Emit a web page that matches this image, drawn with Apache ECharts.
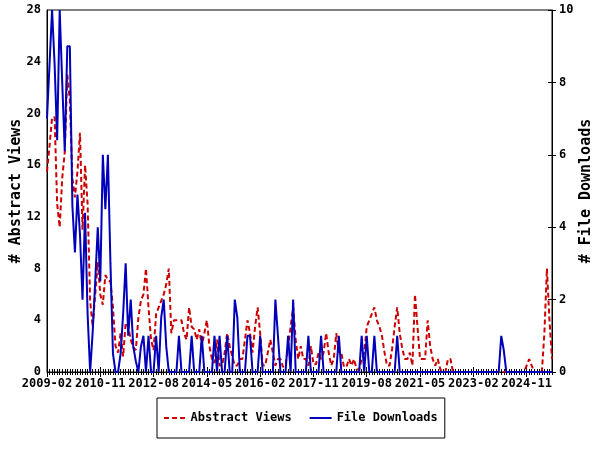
<!DOCTYPE html>
<html><head><meta charset="utf-8">
<script src="https://cdn.jsdelivr.net/npm/echarts@6/dist/echarts.min.js"></script>
<style>html,body{margin:0;padding:0;background:#fff}#c{width:600px;height:450px}</style>
</head><body><div id="c"></div>
<script>
// Monthly categories 2009-02 .. 2025-09
const startYear = 2009, startMonth = 2, monthCount = 200;
const months = [];
for (let k = 0; k < monthCount; k++) {
  const m = startMonth - 1 + k;
  months.push((startYear + Math.floor(m / 12)) + '-' + String(m % 12 + 1).padStart(2, '0'));
}

const abstractViews = [
  15.5, 17.5, 19.7, 19.7, 13, 11.2, 15, 17, 23, 21,
  15, 13.5, 15.5, 18.5, 11, 16, 13, 5.5, 3.5, 6,
  8.5, 6, 5.2, 7.5, 7.1, 7, 5, 2, 1.5, 3,
  1.2, 3.8, 3.5, 2.5, 1.9, 1.7, 4.2, 5.5, 6, 8,
  5, 2.5, 1.7, 4.5, 5, 5.5, 6, 6.8, 8, 3,
  4, 4, 4, 4, 3, 2.5, 5, 3.5, 3.3, 2.5,
  3.3, 2, 3, 4, 2, 1, 0.7, 2.5, 0.5, 0.5,
  1.5, 3, 2, 1.2, 0.5, 0.5, 1, 1, 2.5, 4,
  3, 1.5, 3.5, 5, 3, 0.5, 0.5, 1.5, 2.5, 1.5,
  0.5, 1, 1, 0.4, 0.5, 2, 3.5, 5, 2.5, 1,
  2, 1, 1, 0.5, 2, 0.6, 0.6, 1.5, 1, 1.5,
  3, 1.5, 0.5, 1, 3, 1.5, 1.5, 0.4, 0.4, 1,
  0.5, 1, 0.2, 0.2, 1, 1.5, 3.5, 4, 4.5, 5,
  4, 3.5, 2.8, 1.5, 0.5, 0.5, 1.8, 3.5, 5, 3,
  1.8, 1, 1, 1.5, 0.5, 6, 3.5, 1, 1, 1,
  4, 2, 1, 0.5, 1, 0.2, 0, 0, 1, 1,
  0, 0, 0, 0, 0, 0, 0, 0, 0, 0,
  0, 0, 0, 0, 0, 0, 0, 0, 0, 0,
  0, 0, 0, 0, 0, 0, 0, 0, 0, 0.5,
  1, 0.5, 0, 0, 0, 0, 3, 8, 4, 1
];

const fileDownloads = [
  7, 8.5, 10, 8.5, 6.4, 10, 8, 6.1, 9, 9,
  4.6, 3.3, 4.9, 3.8, 2, 4.4, 1.6, 0, 1.1, 2.5,
  4, 2.5, 6, 4.5, 6, 3, 0.5, 0, 0, 0.5,
  1.6, 3, 1, 2, 0.7, 0.3, 0, 0.7, 1, 0,
  1, 0, 0, 1, 0, 1.5, 2, 0.7, 0, 0,
  0, 0, 1, 0, 0, 0, 0, 1, 0, 0,
  0, 1, 0, 0, 0, 0, 1, 0, 1, 0,
  0, 1, 0, 0, 2, 1.5, 0, 0, 0, 1,
  1, 0, 0, 0, 1, 0, 0, 0, 0, 0,
  2, 1, 0, 0, 0, 1, 0, 2, 0, 0,
  0, 0, 0, 1, 0, 0, 0, 0, 1, 0,
  0, 0, 0, 0, 0, 1, 0, 0, 0, 0,
  0, 0, 0, 0, 1, 0, 1, 0, 0, 1,
  0, 0, 0, 0, 0, 0, 0, 0, 1, 0,
  0, 0, 0, 0, 0, 0, 0, 0, 0, 0,
  0, 0, 0, 0, 0, 0, 0, 0, 0, 0,
  0, 0, 0, 0, 0, 0, 0, 0, 0, 0,
  0, 0, 0, 0, 0, 0, 0, 0, 0, 1,
  0.6, 0, 0, 0, 0, 0, 0, 0, 0, 0,
  0, 0, 0, 0, 0, 0, 0, 0, 0, 0
];

const leftTicks = { min: 0, max: 28, interval: 4 };
const rightTicks = { min: 0, max: 10, interval: 2 };
const labelStep = 21;

const FONT = 'DejaVu Sans Mono';
const txt = { color: '#000', fontFamily: FONT, fontWeight: 'bold', fontSize: 12 };
const RED = '#cc0000', BLUE = '#0000bb';

function tickAxis(interval, len, inside) {
  return {
    type: 'category', data: months, boundaryGap: false, position: 'bottom',
    axisLine: { show: false }, axisLabel: { show: false }, splitLine: { show: false },
    axisTick: { show: true, interval: interval, length: len, inside: inside, lineStyle: { color: '#000', width: 1 } }
  };
}

const chart = echarts.init(document.getElementById('c'), null, { renderer: 'canvas' });
chart.setOption({
  animation: false,
  backgroundColor: '#fff',
  grid: { left: 47, right: 48, top: 10, bottom: 78, show: true, borderColor: '#000', borderWidth: 1,
          containLabel: false, outerBoundsMode: 'none' },
  legend: {
    data: [
      { name: 'Abstract Views', icon: 'path://M0 0H5V2H0Z M8 0H13V2H8Z M16 0H21V2H16Z' },
      { name: 'File Downloads', icon: 'rect' }
    ],
    left: 157, top: 398, orient: 'horizontal',
    borderColor: '#000', borderWidth: 1, padding: [13, 7],
    itemGap: 18, itemWidth: 22, itemHeight: 2,
    textStyle: Object.assign({ lineHeight: 14 }, txt)
  },
  xAxis: [
    {
      type: 'category', data: months, boundaryGap: false, position: 'bottom',
      axisLine: { show: true, lineStyle: { color: '#000', width: 1 } },
      axisTick: { show: true, interval: labelStep - 1, length: 5, lineStyle: { color: '#000' } },
      axisLabel: Object.assign({ interval: labelStep - 1, margin: 6, hideOverlap: false }, txt),
      splitLine: { show: false }
    },
    tickAxis(labelStep - 1, 5, true),
    tickAxis(0, 3, true),
    tickAxis(0, 3, false)
  ],
  yAxis: [
    {
      type: 'value', position: 'left', min: leftTicks.min, max: leftTicks.max, interval: leftTicks.interval,
      name: '# Abstract Views', nameLocation: 'middle', nameGap: 23, nameRotate: 90, nameMoveOverlap: false,
      nameTextStyle: { color: '#000', fontFamily: FONT, fontWeight: 'bold', fontSize: 15 },
      axisLine: { show: true, lineStyle: { color: '#000' } },
      axisTick: { show: false },
      axisLabel: Object.assign({ margin: 6 }, txt),
      splitLine: { show: false }
    },
    {
      type: 'value', position: 'right', min: rightTicks.min, max: rightTicks.max, interval: rightTicks.interval,
      name: '# File Downloads', nameLocation: 'middle', nameGap: 27, nameRotate: 90, nameMoveOverlap: false,
      nameTextStyle: { color: '#000', fontFamily: FONT, fontWeight: 'bold', fontSize: 15 },
      axisLine: { show: true, lineStyle: { color: '#000' } },
      axisTick: { show: true, inside: true, length: 4, lineStyle: { color: '#000' } },
      axisLabel: Object.assign({ margin: 7 }, txt),
      splitLine: { show: false }
    },
    {
      type: 'value', position: 'right', min: rightTicks.min, max: rightTicks.max, interval: rightTicks.interval,
      axisLine: { show: false }, axisLabel: { show: false }, splitLine: { show: false },
      axisTick: { show: true, inside: false, length: 4, lineStyle: { color: '#000' } }
    }
  ],
  series: [
    {
      name: 'Abstract Views', type: 'line', data: abstractViews, xAxisIndex: 0, yAxisIndex: 0,
      symbol: 'none', showSymbol: false,
      lineStyle: { color: RED, width: 2, type: [5, 3] }, itemStyle: { color: RED }
    },
    {
      name: 'File Downloads', type: 'line', data: fileDownloads, xAxisIndex: 0, yAxisIndex: 1,
      symbol: 'none', showSymbol: false,
      lineStyle: { color: BLUE, width: 2 }, itemStyle: { color: BLUE }
    }
  ]
});
</script></body></html>
